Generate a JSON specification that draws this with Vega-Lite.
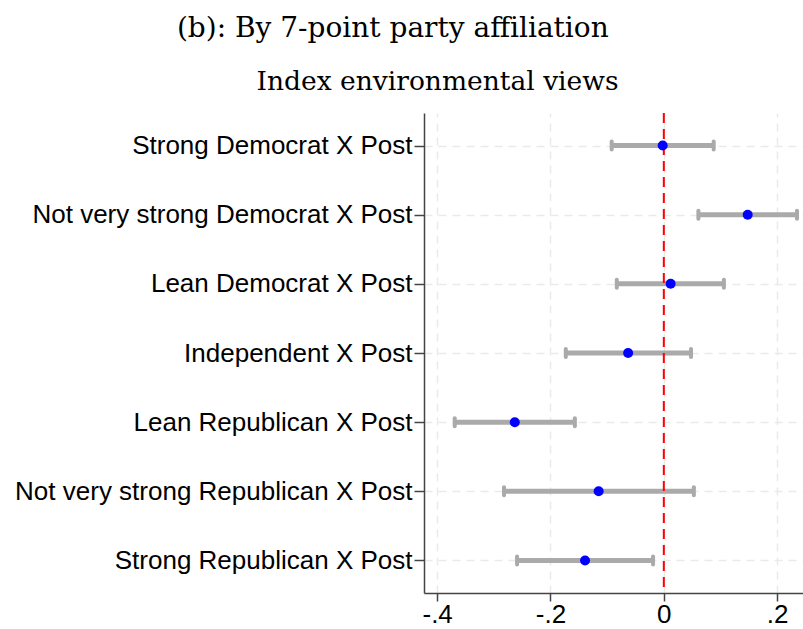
{
  "$schema": "https://vega.github.io/schema/vega-lite/v6.json",
  "background": "white",
  "padding": {"left": 14, "right": 0, "top": 14, "bottom": 0},
  "title": {"text": "(b): By 7-point party affiliation", "font": "DejaVu Serif", "fontSize": 28, "fontWeight": "normal", "color": "#000000", "anchor": "middle", "dx": -16, "offset": 26},
  "vconcat": [
    {
      "width": 379,
      "height": 480,
      "title": {"text": "Index environmental views", "font": "DejaVu Serif", "fontSize": 26.5, "fontWeight": "normal", "color": "#000000", "anchor": "middle", "frame": "group", "dx": -176, "offset": 17},
      "data": {"values": [
        {"label": "Strong Democrat X Post", "b": -0.002, "lo": -0.092, "hi": 0.088},
        {"label": "Not very strong Democrat X Post", "b": 0.148, "lo": 0.061, "hi": 0.235},
        {"label": "Lean Democrat X Post", "b": 0.012, "lo": -0.083, "hi": 0.106},
        {"label": "Independent X Post", "b": -0.063, "lo": -0.173, "hi": 0.048},
        {"label": "Lean Republican X Post", "b": -0.263, "lo": -0.369, "hi": -0.157},
        {"label": "Not very strong Republican X Post", "b": -0.115, "lo": -0.282, "hi": 0.053},
        {"label": "Strong Republican X Post", "b": -0.139, "lo": -0.259, "hi": -0.019}
      ]},
      "encoding": {
        "y": {"field": "label", "type": "nominal", "sort": null,
          "scale": {"type": "point", "padding": 0.47},
          "axis": {"title": null, "labelFont": "Liberation Sans", "labelFontSize": 26, "labelColor": "#000000", "labelPadding": 2, "tickSize": 10, "tickColor": "#444444", "domainColor": "#444444", "domainWidth": 1.5, "tickWidth": 1.5, "grid": true, "gridColor": "#eaeaea", "gridDash": [8, 6], "gridWidth": 1.5, "labelLimit": 0}}
      },
      "layer": [
        {
          "mark": {"type": "rule", "color": "#aaaaaa", "strokeWidth": 5},
          "encoding": {
            "x": {"field": "lo", "type": "quantitative",
              "scale": {"domain": [-0.4232, 0.2456], "nice": false, "zero": false},
              "axis": {"title": null, "values": [-0.4, -0.2, 0, 0.2], "labelExpr": "datum.value == 0 ? '0' : (datum.value < 0 ? '-' : '') + replace(format(abs(datum.value), '.1f'), '0.', '.')", "labelFont": "Liberation Sans", "labelFontSize": 26, "labelColor": "#000000", "labelPadding": 0, "tickSize": 8, "tickColor": "#444444", "domainColor": "#444444", "domainWidth": 1.5, "tickWidth": 1.5, "grid": true, "gridColor": "#eaeaea", "gridDash": [8, 6], "gridWidth": 1.5}},
            "x2": {"field": "hi"}
          }
        },
        {
          "mark": {"type": "tick", "color": "#aaaaaa", "thickness": 4, "size": 12, "cornerRadius": 2, "opacity": 1},
          "encoding": {"x": {"field": "lo", "type": "quantitative"}}
        },
        {
          "mark": {"type": "tick", "color": "#aaaaaa", "thickness": 4, "size": 12, "cornerRadius": 2, "opacity": 1},
          "encoding": {"x": {"field": "hi", "type": "quantitative"}}
        },
        {
          "data": {"values": [{"ref": 0}]},
          "mark": {"type": "rule", "color": "#ff0000", "strokeWidth": 2, "strokeDash": [10, 6]},
          "encoding": {"x": {"field": "ref", "type": "quantitative"}, "y": null}
        },
        {
          "mark": {"type": "point", "filled": true, "color": "#0000ff", "size": 100, "opacity": 1},
          "encoding": {"x": {"field": "b", "type": "quantitative"}}
        }
      ]
    }
  ],
  "config": {"view": {"stroke": null}, "axis": {"labelOverlap": false}}
}
